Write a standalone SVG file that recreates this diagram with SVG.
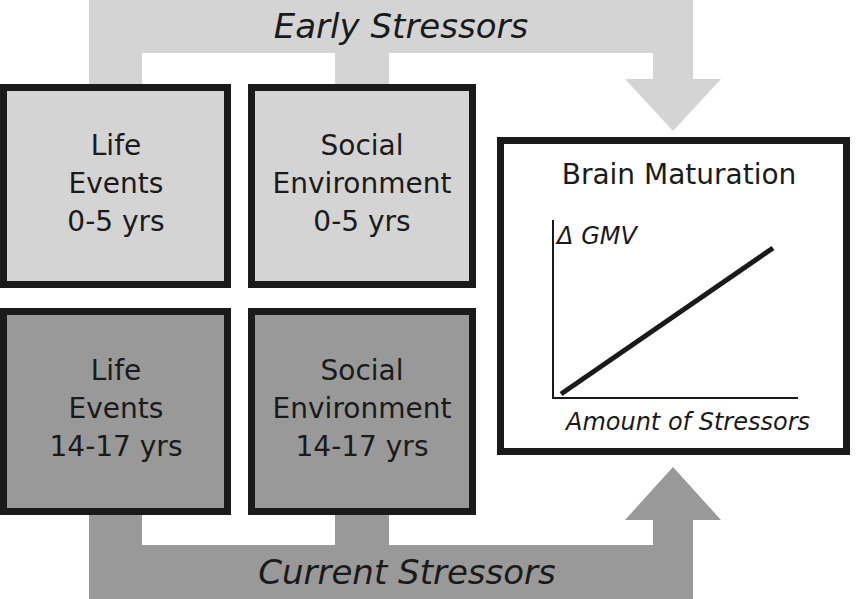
<svg xmlns="http://www.w3.org/2000/svg" width="857" height="599" viewBox="0 0 857 599">
<style>
.t{font-family:"DejaVu Sans",sans-serif;font-size:28px;fill:#1a1a1a;text-anchor:middle}
.i{font-style:italic}
.box{stroke:#1a1a1a;stroke-width:7}
</style>
<rect width="857" height="599" fill="#fff"/>
<g id="connectors">
<path d="M89,0 H693 V79 H721 L673,131 L625,79 H653 V53 H389 V87 H335 V53 H142 V87 H89 Z" fill="#d4d4d4"/>
<path d="M89,512 H142 V545 H335 V512 H389 V545 H653 V520 H625 L673,467 L721,520 H693 V599 H89 Z" fill="#999"/>
<text class="t i" x="401" y="38" font-size="34" style="font-size:34px">Early Stressors</text>
<text class="t i" x="407" y="584" style="font-size:34px">Current Stressors</text>
</g>
<g id="le05"><rect class="box" x="3.5" y="87.5" width="224" height="197" fill="#d4d4d4"/>
<text class="t" x="116" y="155">Life</text><text class="t" x="116" y="193">Events</text><text class="t" x="116" y="231">0-5 yrs</text></g>
<g id="se05"><rect class="box" x="251.5" y="87.5" width="221" height="197" fill="#d4d4d4"/>
<text class="t" x="362" y="155">Social</text><text class="t" x="362" y="193">Environment</text><text class="t" x="362" y="231">0-5 yrs</text></g>
<g id="le1417"><rect class="box" x="3.5" y="311.5" width="224" height="200" fill="#999"/>
<text class="t" x="116" y="380">Life</text><text class="t" x="116" y="418">Events</text><text class="t" x="116" y="456">14-17 yrs</text></g>
<g id="se1417"><rect class="box" x="251.5" y="311.5" width="221" height="200" fill="#999"/>
<text class="t" x="362" y="380">Social</text><text class="t" x="362" y="418">Environment</text><text class="t" x="362" y="456">14-17 yrs</text></g>
<g id="brain"><rect class="box" x="500.5" y="140.5" width="346" height="311" fill="#fff"/>
<text class="t" x="679" y="184">Brain Maturation</text>
<path d="M553,220 V398 H798" fill="none" stroke="#1a1a1a" stroke-width="2"/>
<line x1="561" y1="394" x2="773" y2="248" stroke="#1a1a1a" stroke-width="5"/>
<text class="t i" x="597" y="244" style="font-size:24px">Δ GMV</text>
<text class="t i" x="688" y="430" style="font-size:24px">Amount of Stressors</text></g>
</svg>
